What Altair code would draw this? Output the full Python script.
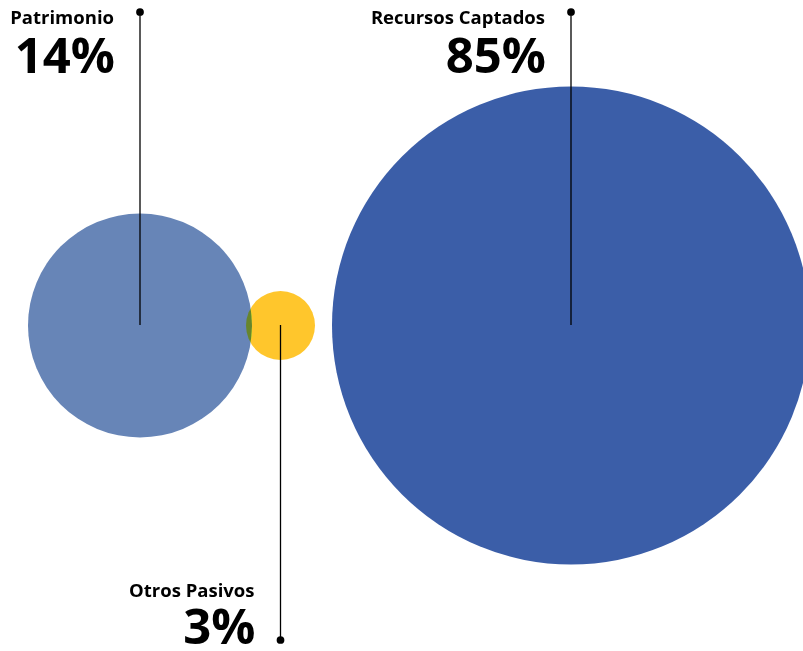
import altair as alt
import pandas as pd

categories = ["Patrimonio", "Otros Pasivos", "Recursos Captados"]
values = [14, 3, 85]
colors = ["#6785b7", "#ffc62c", "#3b5ea8"]

df = pd.DataFrame({"categoria": categories, "valor": values})
df["etiqueta"] = df["valor"].astype(str) + "%"

# horizontal placement of each bubble centre (layout, in pixels)
pos_expr = ("datum.categoria == 'Patrimonio' ? 140 : "
            "(datum.categoria == 'Otros Pasivos' ? 280.5 : 571)")

X = alt.X("px:Q", scale=alt.Scale(domain=[0, 803], range=[0, 803], zero=False, nice=False), axis=None)
size_scale = alt.Scale(type="linear", zero=False, domain=[3, 14, 85],
                       range=[69 ** 2, 224 ** 2, 478 ** 2])
color_scale = alt.Scale(domain=categories, range=colors)

base = alt.Chart(df).transform_calculate(px=pos_expr)
is_bottom = alt.datum.categoria == "Otros Pasivos"
is_top = alt.datum.categoria != "Otros Pasivos"

bubbles = base.mark_circle(opacity=1, blend="darken").encode(
    x=X,
    y=alt.value(325.5),
    size=alt.Size("valor:Q", scale=size_scale, legend=None),
    color=alt.Color("categoria:N", scale=color_scale, legend=None),
    order=alt.Order("valor:Q", sort="descending"),
)

rules_top = base.transform_filter(is_top).mark_rule(color="#000000", strokeWidth=1.3).encode(
    x=X, y=alt.value(12), y2=alt.value(325)
)
rules_bottom = base.transform_filter(is_bottom).mark_rule(color="#000000", strokeWidth=1.3).encode(
    x=X, y=alt.value(325), y2=alt.value(640)
)
dots_top = base.transform_filter(is_top).mark_circle(color="#000000", opacity=1, size=60).encode(
    x=X, y=alt.value(12)
)
dots_bottom = base.transform_filter(is_bottom).mark_circle(color="#000000", opacity=1, size=60).encode(
    x=X, y=alt.value(640)
)

txt = dict(align="right", font="Open Sans", fontWeight="bold", color="#000000", baseline="alphabetic")
names_top = base.transform_filter(is_top).mark_text(fontSize=18.5, dx=-26, **txt).encode(
    x=X, y=alt.value(24), text="categoria:N"
)
pct_top = base.transform_filter(is_top).mark_text(fontSize=49, dx=-25, **txt).encode(
    x=X, y=alt.value(73), text="etiqueta:N"
)
names_bottom = base.transform_filter(is_bottom).mark_text(fontSize=18.5, dx=-26, **txt).encode(
    x=X, y=alt.value(597), text="categoria:N"
)
pct_bottom = base.transform_filter(is_bottom).mark_text(fontSize=49, dx=-25, **txt).encode(
    x=X, y=alt.value(644), text="etiqueta:N"
)

chart = alt.layer(
    bubbles, rules_top, rules_bottom, dots_top, dots_bottom,
    names_top, pct_top, names_bottom, pct_bottom
).properties(
    width=803, height=651, autosize=alt.AutoSizeParams(type="none"), padding=0,
    background="#ffffff"
).configure_view(stroke=None)

chart.save("out.html", embed_options={"renderer": "svg", "actions": False})
